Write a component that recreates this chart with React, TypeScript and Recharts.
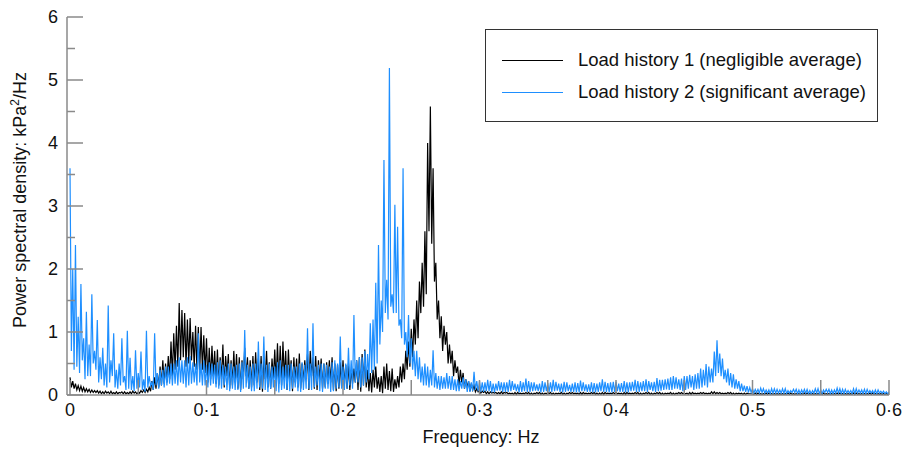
import React from 'react';
import { LineChart, Line, XAxis, YAxis, Legend, Label } from 'recharts';

// Frequency bins: uniform spacing (Hz), 0 to 0.6 Hz
const BIN_HZ = 0.001;

// Load history 1 (negligible average), PSD kPa^2/Hz; each row = 20 bins (0.02 Hz)
const loadHistory1 = [
  0.28, 0.12, 0.22, 0.1, 0.18, 0.08, 0.15, 0.07, 0.14, 0.06, 0.12, 0.05, 0.1, 0.05, 0.09, 0.04, 0.08, 0.04, 0.07, 0.04,
  0.07, 0.03, 0.06, 0.02, 0.05, 0.02, 0.06, 0.03, 0.05, 0.02, 0.06, 0.02, 0.04, 0.02, 0.05, 0.02, 0.04, 0.03, 0.05, 0.02,
  0.05, 0.02, 0.04, 0.02, 0.05, 0.02, 0.06, 0.03, 0.05, 0.02, 0.04, 0.03, 0.07, 0.04, 0.08, 0.04, 0.09, 0.05, 0.12, 0.06,
  0.22, 0.08, 0.28, 0.1, 0.35, 0.12, 0.45, 0.15, 0.55, 0.18, 0.5, 0.2, 0.62, 0.25, 0.85, 0.3, 0.98, 0.4, 1.1, 0.45,
  1.46, 0.55, 1.35, 0.6, 1.3, 0.45, 1.2, 0.5, 1.22, 0.55, 1.0, 0.45, 1.1, 0.4, 1.08, 0.35, 1.08, 0.4, 0.95, 0.35,
  0.9, 0.2, 0.75, 0.25, 0.78, 0.3, 0.7, 0.18, 0.72, 0.15, 0.6, 0.25, 0.8, 0.12, 0.62, 0.3, 0.65, 0.1, 0.55, 0.15,
  0.7, 0.2, 0.65, 0.1, 0.6, 0.08, 0.55, 0.25, 0.75, 0.3, 0.6, 0.1, 0.55, 0.12, 0.62, 0.15, 0.68, 0.2, 0.58, 0.08,
  0.62, 0.05, 0.6, 0.25, 0.7, 0.12, 0.52, 0.1, 0.58, 0.25, 0.72, 0.2, 0.82, 0.18, 0.78, 0.15, 0.85, 0.25, 0.7, 0.08,
  0.72, 0.25, 0.55, 0.06, 0.6, 0.2, 0.58, 0.12, 0.66, 0.1, 0.5, 0.2, 0.55, 0.25, 0.65, 0.08, 0.7, 0.3, 0.6, 0.1,
  0.62, 0.08, 0.55, 0.25, 0.58, 0.1, 0.5, 0.12, 0.52, 0.18, 0.55, 0.2, 0.6, 0.08, 0.5, 0.06, 0.48, 0.1, 0.52, 0.12,
  0.55, 0.15, 0.48, 0.1, 0.5, 0.08, 0.4, 0.18, 0.42, 0.2, 0.55, 0.08, 0.6, 0.05, 0.65, 0.15, 0.72, 0.12, 0.4, 0.06,
  0.35, 0.04, 0.4, 0.12, 0.45, 0.1, 0.28, 0.05, 0.3, 0.03, 0.45, 0.1, 0.5, 0.08, 0.38, 0.06, 0.42, 0.05, 0.25, 0.1,
  0.3, 0.12, 0.45, 0.2, 0.5, 0.25, 0.7, 0.4, 0.85, 0.45, 1.05, 0.6, 1.2, 0.8, 1.5, 0.9, 1.8, 1.3, 2.1, 1.4,
  2.6, 1.6, 4.0, 2.6, 4.58, 2.4, 3.6, 1.8, 2.1, 1.2, 1.5, 0.9, 1.25, 0.7, 1.1, 0.8, 1.0, 0.5, 0.8, 0.5,
  0.7, 0.3, 0.55, 0.35, 0.45, 0.15, 0.4, 0.2, 0.35, 0.1, 0.25, 0.12, 0.22, 0.06, 0.18, 0.08, 0.15, 0.05, 0.1, 0.05,
  0.08, 0.03, 0.06, 0.04, 0.06, 0.02, 0.05, 0.02, 0.05, 0.03, 0.04, 0.03, 0.04, 0.02, 0.04, 0.02, 0.05, 0.02, 0.04, 0.03,
  0.04, 0.02, 0.03, 0.02, 0.03, 0.01, 0.04, 0.01, 0.04, 0.02, 0.03, 0.02, 0.03, 0.02, 0.04, 0.02, 0.04, 0.01, 0.03, 0.01,
  0.03, 0.02, 0.04, 0.02, 0.04, 0.01, 0.03, 0.01, 0.03, 0.02, 0.04, 0.02, 0.04, 0.01, 0.03, 0.01, 0.03, 0.02, 0.03, 0.02,
  0.04, 0.01, 0.03, 0.01, 0.03, 0.02, 0.04, 0.02, 0.04, 0.02, 0.03, 0.02, 0.03, 0.01, 0.04, 0.01, 0.04, 0.02, 0.03, 0.02,
  0.03, 0.02, 0.04, 0.02, 0.04, 0.01, 0.03, 0.01, 0.03, 0.01, 0.04, 0.01, 0.04, 0.02, 0.03, 0.02, 0.03, 0.02, 0.04, 0.02,
  0.04, 0.02, 0.03, 0.02, 0.03, 0.01, 0.04, 0.01, 0.04, 0.02, 0.03, 0.02, 0.03, 0.02, 0.04, 0.02, 0.04, 0.01, 0.03, 0.01,
  0.03, 0.02, 0.04, 0.02, 0.04, 0.01, 0.03, 0.01, 0.03, 0.02, 0.04, 0.02, 0.04, 0.01, 0.03, 0.01, 0.03, 0.02, 0.03, 0.02,
  0.04, 0.01, 0.03, 0.01, 0.03, 0.02, 0.04, 0.02, 0.04, 0.02, 0.03, 0.02, 0.03, 0.01, 0.04, 0.01, 0.04, 0.02, 0.03, 0.02,
  0.03, 0.02, 0.04, 0.02, 0.04, 0.02, 0.03, 0.02, 0.03, 0.02, 0.05, 0.02, 0.05, 0.02, 0.04, 0.02, 0.04, 0.02, 0.03, 0.02,
  0.03, 0.02, 0.04, 0.02, 0.04, 0.01, 0.03, 0.01, 0.03, 0.02, 0.03, 0.02, 0.03, 0.01, 0.03, 0.01, 0.03, 0.02, 0.02, 0.02,
  0.02, 0.01, 0.03, 0.01, 0.03, 0.01, 0.02, 0.01, 0.02, 0.01, 0.03, 0.01, 0.03, 0.01, 0.02, 0.01, 0.02, 0.01, 0.02, 0.01,
  0.02, 0.01, 0.02, 0.01, 0.02, 0.01, 0.03, 0.01, 0.03, 0.01, 0.02, 0.01, 0.02, 0.01, 0.02, 0.01, 0.02, 0.01, 0.03, 0.01,
  0.03, 0.01, 0.02, 0.01, 0.02, 0.01, 0.02, 0.01, 0.02, 0.01, 0.03, 0.01, 0.03, 0.01, 0.02, 0.01, 0.02, 0.01, 0.02, 0.01,
  0.02, 0.01, 0.03, 0.01, 0.03, 0.01, 0.02, 0.01, 0.02, 0.01, 0.02, 0.01, 0.02, 0.01, 0.03, 0.01, 0.03, 0.01, 0.02, 0.01,
  0.02, 0.01, 0.02, 0.01, 0.02, 0.01, 0.03, 0.01, 0.03, 0.01, 0.02, 0.01, 0.02, 0.01, 0.02, 0.01, 0.02, 0.01, 0.02, 0.01,
  0.02,
];

// Load history 2 (significant average)
const loadHistory2 = [
  3.6, 0.7, 2.0, 0.4, 2.38, 0.45, 1.24, 0.35, 1.76, 0.55, 0.9, 0.25, 1.32, 0.3, 0.8, 0.3, 1.6, 0.5, 0.7, 0.4,
  1.19, 0.2, 0.6, 0.25, 0.75, 0.15, 0.5, 0.12, 1.42, 0.2, 0.55, 0.3, 0.98, 0.12, 0.4, 0.1, 0.5, 0.15, 0.9, 0.2,
  0.3, 0.08, 1.02, 0.1, 0.59, 0.08, 0.3, 0.06, 0.71, 0.1, 0.35, 0.12, 0.69, 0.08, 0.25, 0.05, 1.02, 0.12, 0.3, 0.15,
  0.2, 0.08, 0.98, 0.15, 0.35, 0.1, 0.4, 0.15, 0.4, 0.12, 0.45, 0.15, 0.45, 0.18, 0.5, 0.15, 0.5, 0.18, 0.55, 0.15,
  0.6, 0.2, 0.55, 0.18, 0.55, 0.12, 0.6, 0.15, 0.62, 0.18, 0.52, 0.2, 0.5, 0.15, 0.98, 0.2, 0.5, 0.15, 0.55, 0.15,
  0.48, 0.12, 0.52, 0.15, 0.5, 0.18, 0.48, 0.12, 0.52, 0.1, 0.55, 0.1, 0.48, 0.15, 0.45, 0.08, 0.5, 0.06, 0.5, 0.1,
  0.45, 0.08, 0.48, 0.08, 0.5, 0.05, 0.52, 0.1, 1.03, 0.12, 0.48, 0.1, 0.45, 0.06, 0.5, 0.06, 0.5, 0.1, 0.85, 0.12,
  0.5, 0.1, 0.93, 0.08, 0.48, 0.05, 0.5, 0.1, 0.45, 0.12, 0.45, 0.06, 0.52, 0.04, 0.55, 0.08, 0.45, 0.1, 0.48, 0.08,
  0.48, 0.06, 0.5, 0.1, 0.45, 0.12, 0.45, 0.06, 0.5, 0.05, 0.52, 0.08, 0.48, 0.1, 1.06, 0.1, 0.5, 0.08, 1.14, 0.12,
  0.45, 0.15, 0.48, 0.06, 0.5, 0.05, 0.5, 0.1, 0.48, 0.1, 0.45, 0.05, 0.52, 0.06, 0.55, 0.1, 0.5, 0.12, 0.93, 0.1,
  0.45, 0.08, 0.5, 0.1, 0.75, 0.15, 0.55, 0.1, 1.27, 0.2, 0.55, 0.2, 0.6, 0.12, 0.6, 0.15, 0.7, 0.2, 0.65, 0.25,
  1.14, 0.35, 1.2, 0.4, 1.78, 0.5, 2.38, 0.8, 1.5, 1.0, 3.73, 1.3, 1.83, 1.2, 5.19, 1.4, 1.6, 1.3, 3.02, 1.3,
  2.67, 1.1, 1.2, 0.9, 3.6, 0.8, 1.0, 0.6, 1.27, 0.5, 0.9, 0.4, 0.7, 0.3, 0.7, 0.25, 0.6, 0.2, 0.45, 0.15,
  0.5, 0.15, 0.45, 0.12, 0.4, 0.15, 0.71, 0.12, 0.35, 0.1, 0.3, 0.08, 0.3, 0.1, 0.28, 0.1, 0.35, 0.1, 0.3, 0.08,
  0.3, 0.08, 0.25, 0.06, 0.25, 0.06, 0.22, 0.1, 0.28, 0.1, 0.25, 0.05, 0.22, 0.05, 0.2, 0.06, 0.37, 0.08, 0.22, 0.06,
  0.22, 0.05, 0.2, 0.05, 0.2, 0.06, 0.24, 0.06, 0.22, 0.04, 0.18, 0.04, 0.18, 0.07, 0.22, 0.07, 0.2, 0.05, 0.2, 0.05,
  0.2, 0.05, 0.24, 0.06, 0.22, 0.08, 0.18, 0.06, 0.17, 0.04, 0.22, 0.05, 0.2, 0.06, 0.26, 0.05, 0.22, 0.05, 0.2, 0.06,
  0.2, 0.07, 0.17, 0.06, 0.18, 0.04, 0.22, 0.05, 0.2, 0.06, 0.19, 0.05, 0.2, 0.05, 0.24, 0.06, 0.21, 0.07, 0.18, 0.05,
  0.18, 0.04, 0.21, 0.05, 0.2, 0.06, 0.16, 0.05, 0.18, 0.05, 0.2, 0.04, 0.19, 0.04, 0.23, 0.06, 0.2, 0.06, 0.17, 0.05,
  0.17, 0.05, 0.2, 0.04, 0.19, 0.04, 0.18, 0.05, 0.2, 0.06, 0.25, 0.05, 0.21, 0.05, 0.19, 0.04, 0.2, 0.04, 0.21, 0.05,
  0.21, 0.06, 0.18, 0.05, 0.19, 0.05, 0.22, 0.04, 0.2, 0.04, 0.2, 0.06, 0.21, 0.07, 0.24, 0.05, 0.22, 0.05, 0.2, 0.06,
  0.22, 0.06, 0.25, 0.05, 0.22, 0.08, 0.2, 0.06, 0.21, 0.05, 0.27, 0.06, 0.24, 0.07, 0.24, 0.08, 0.25, 0.09, 0.26, 0.08,
  0.28, 0.08, 0.3, 0.1, 0.28, 0.1, 0.25, 0.08, 0.26, 0.06, 0.3, 0.08, 0.3, 0.1, 0.32, 0.12, 0.3, 0.08, 0.33, 0.1,
  0.35, 0.1, 0.42, 0.12, 0.4, 0.15, 0.49, 0.12, 0.45, 0.2, 0.42, 0.2, 0.69, 0.3, 0.87, 0.35, 0.66, 0.3, 0.58, 0.25,
  0.4, 0.2, 0.42, 0.15, 0.35, 0.12, 0.33, 0.1, 0.25, 0.1, 0.22, 0.06, 0.18, 0.06, 0.15, 0.05, 0.14, 0.04, 0.12, 0.04,
  0.1, 0.03, 0.09, 0.04, 0.09, 0.03, 0.11, 0.04, 0.1, 0.03, 0.08, 0.03, 0.08, 0.02, 0.1, 0.03, 0.1, 0.03, 0.09, 0.03,
  0.08, 0.03, 0.1, 0.03, 0.1, 0.02, 0.07, 0.03, 0.07, 0.04, 0.09, 0.04, 0.09, 0.02, 0.08, 0.02, 0.08, 0.03, 0.09, 0.03,
  0.09, 0.02, 0.07, 0.02, 0.07, 0.03, 0.1, 0.03, 0.1, 0.02, 0.08, 0.02, 0.08, 0.04, 0.09, 0.04, 0.09, 0.02, 0.08, 0.02,
  0.08, 0.03, 0.11, 0.03, 0.1, 0.02, 0.09, 0.02, 0.09, 0.03, 0.07, 0.03, 0.07, 0.02, 0.1, 0.02, 0.1, 0.03, 0.08, 0.03,
  0.08, 0.02, 0.09, 0.02, 0.09, 0.03, 0.07, 0.03, 0.07, 0.02, 0.08, 0.02, 0.08, 0.03, 0.06, 0.03, 0.06, 0.02, 0.05, 0.02,
  0.05,
];

const xTicks = [0, 0.05, 0.1, 0.15, 0.2, 0.25, 0.3, 0.35, 0.4, 0.45, 0.5, 0.55, 0.6];
const xTickLabels: Record<string, string> = {
  '0': '0', '0.1': '0·1', '0.2': '0·2', '0.3': '0·3', '0.4': '0·4', '0.5': '0·5', '0.6': '0·6',
};
const yTicks = [0, 0.5, 1, 1.5, 2, 2.5, 3, 3.5, 4, 4.5, 5, 5.5, 6];

const seriesNames = ['Load history 1 (negligible average)', 'Load history 2 (significant average)'];
const seriesColors = ['#000000', '#1E8FFF'];

const data = loadHistory1.map((v, i) => ({
  f: Math.round(i * BIN_HZ * 10000) / 10000,
  lh1: v,
  lh2: loadHistory2[i],
}));

const FONT = '"Liberation Sans", Arial, Helvetica, sans-serif';
const AXIS_GRAY = '#8a8a8a';

const XTick = (props: any) => {
  const { x, y, payload } = props;
  const key = String(Math.round(payload.value * 100) / 100);
  const label = xTickLabels[key];
  return (
    <g>
      <line x1={x} x2={x} y1={y} y2={y - 15} stroke={AXIS_GRAY} strokeWidth={1.5} />
      {label !== undefined && (
        <text x={x} y={y + 21} textAnchor="middle" fontSize={18} fill="#111" fontFamily={FONT}>
          {label}
        </text>
      )}
    </g>
  );
};

const YTick = (props: any) => {
  const { x, y, payload } = props;
  const v = payload.value;
  const major = Number.isInteger(v);
  return (
    <g>
      <line x1={x} x2={x + (major ? 16 : 8)} y1={y} y2={y} stroke={AXIS_GRAY} strokeWidth={1.5} />
      {major && (
        <text x={x - 9} y={y} dy="0.36em" textAnchor="end" fontSize={18} fill="#111" fontFamily={FONT}>
          {v}
        </text>
      )}
    </g>
  );
};

const LegendBox = () => (
  <div
    style={{
      width: 393,
      height: 93,
      boxSizing: 'border-box',
      border: '1.5px solid #333',
      background: '#fff',
      fontFamily: FONT,
      fontSize: 18.5,
      color: '#111',
      position: 'relative',
    }}
  >
    {seriesNames.map((name, i) => (
      <div
        key={name}
        style={{ position: 'absolute', left: 16, top: 19 + i * 32, height: 22, display: 'flex', alignItems: 'center' }}
      >
        <div style={{ width: 61, height: 0, borderTop: `1.5px solid ${seriesColors[i]}`, marginRight: 15 }} />
        <span style={{ whiteSpace: 'nowrap' }}>{name}</span>
      </div>
    ))}
  </div>
);

export default function App() {
  return (
    <div style={{ position: 'absolute', left: 0, top: 0, width: 907, height: 452, background: '#fff' }}>
      <LineChart width={907} height={452} data={data} margin={{ top: 17, right: 18, bottom: 27, left: 7 }}>
        <XAxis
          dataKey="f"
          type="number"
          domain={[-0.0022, 0.6]}
          ticks={xTicks}
          interval={0}
          allowDataOverflow
          tickLine={false}
          tickSize={0}
          tickMargin={0}
          height={30}
          axisLine={{ stroke: AXIS_GRAY, strokeWidth: 1.5 }}
          tick={<XTick />}
        >
          <Label
            content={() => (
              <text x={481} y={443} textAnchor="middle" fontSize={18} fill="#111" fontFamily={FONT}>
                Frequency: Hz
              </text>
            )}
          />
        </XAxis>
        <YAxis
          type="number"
          domain={[0, 6]}
          ticks={yTicks}
          interval={0}
          width={60}
          tickLine={false}
          tickSize={0}
          tickMargin={0}
          axisLine={{ stroke: AXIS_GRAY, strokeWidth: 1.5 }}
          tick={<YTick />}
        >
          <Label
            content={() => (
              <text
                x={26}
                y={200}
                transform="rotate(-90 26 200)"
                textAnchor="middle"
                fontSize={18}
                fill="#111"
                fontFamily={FONT}
              >
                Power spectral density: kPa<tspan dy={-7} fontSize={12}>2</tspan>
                <tspan dy={7}>/Hz</tspan>
              </text>
            )}
          />
        </YAxis>
        <Legend
          layout="horizontal"
          verticalAlign="middle"
          align="center"
          content={() => <LegendBox />}
          wrapperStyle={{ left: 485, top: 29, width: 393, height: 93 }}
        />
        <Line
          type="linear"
          dataKey="lh1"
          name={seriesNames[0]}
          stroke={seriesColors[0]}
          strokeWidth={1.2}
          dot={false}
          isAnimationActive={false}
        />
        <Line
          type="linear"
          dataKey="lh2"
          name={seriesNames[1]}
          stroke={seriesColors[1]}
          strokeWidth={1.2}
          dot={false}
          isAnimationActive={false}
        />
      </LineChart>
    </div>
  );
}
